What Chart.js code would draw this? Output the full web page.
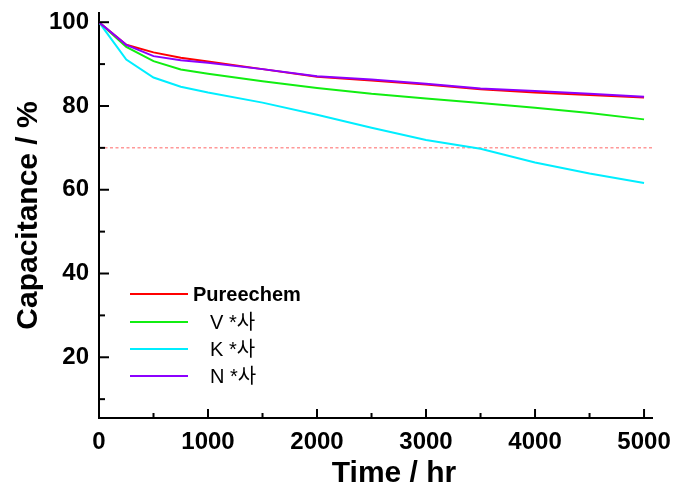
<!DOCTYPE html>
<html>
<head>
<meta charset="utf-8">
<script src="https://cdn.jsdelivr.net/npm/chart.js@4.4.0/dist/chart.umd.min.js"></script>
<style>
  html, body { margin: 0; padding: 0; background: #fff; }
</style>
</head>
<body>
<canvas id="cap-chart" width="674" height="485"></canvas>
<script>
// time points (hr) and capacitance retention (%)
const hours = [0, 250, 500, 750, 1000, 1500, 2000, 2500, 3000, 3500, 4000, 4500, 5000];
const pureechem = [100, 94.6, 92.8, 91.5, 90.6, 88.8, 87.0, 86.1, 85.1, 84.0, 83.2, 82.6, 82.0];
const vCompany = [100, 94.1, 90.7, 88.7, 87.7, 85.9, 84.3, 82.9, 81.8, 80.7, 79.6, 78.3, 76.8];
const kCompany = [100, 91.1, 86.8, 84.6, 83.2, 80.8, 77.9, 74.8, 71.9, 69.8, 66.5, 63.9, 61.6];
const nCompany = [100, 94.6, 91.9, 90.9, 90.3, 88.8, 87.1, 86.3, 85.3, 84.2, 83.6, 82.9, 82.2];

const seriesNames = ["Pureechem", "V *사", "K *사", "N *사"];
const seriesColors = ["#ff0000", "#11ee11", "#00eeff", "#8c00ff"];

const xTickLabels = [0, 1000, 2000, 3000, 4000, 5000];
const yTickLabels = [20, 40, 60, 80, 100];
const limitValue = 70;

const X_MAX = 5073;
const Y_MIN = 5.5;
const Y_MAX = 102.2;

const toPoints = (values) => hours.map((h, i) => ({ x: h, y: values[i] }));

const seriesValues = [pureechem, vCompany, kCompany, nCompany];
const drawOrder = [1, 3, 2, 0];

const datasets = seriesValues.map((values, i) => ({
  label: seriesNames[i],
  data: toPoints(values),
  borderColor: seriesColors[i],
  borderWidth: 2,
  pointRadius: 0,
  tension: 0,
  order: drawOrder[i],
}));

datasets.push({
  label: "limit",
  data: [{ x: 0, y: limitValue }, { x: X_MAX, y: limitValue }],
  borderColor: "rgba(255, 110, 110, 0.7)",
  borderWidth: 1.5,
  borderDash: [3, 2.5],
  pointRadius: 0,
  order: 5,
});

// inward tick marks, major and minor
const innerTicks = {
  id: "innerTicks",
  afterDraw(chart) {
    const ctx = chart.ctx;
    const { x, y } = chart.scales;
    ctx.save();
    ctx.strokeStyle = "#000";
    ctx.lineWidth = 2;
    for (let v = 500; v <= 5000; v += 500) {
      const px = x.getPixelForValue(v);
      const len = v % 1000 === 0 ? 9 : 5;
      ctx.beginPath();
      ctx.moveTo(px, y.bottom);
      ctx.lineTo(px, y.bottom - len);
      ctx.stroke();
    }
    for (let v = 10; v <= 100; v += 10) {
      const py = y.getPixelForValue(v);
      const len = v % 20 === 0 ? 10 : 6;
      ctx.beginPath();
      ctx.moveTo(x.left, py);
      ctx.lineTo(x.left + len, py);
      ctx.stroke();
    }
    ctx.restore();
  },
};

// legend drawn inside the plot, lower left
const insideLegend = {
  id: "insideLegend",
  afterDraw(chart) {
    const ctx = chart.ctx;
    const rows = [294, 322, 349, 376];
    ctx.save();
    ctx.textBaseline = "middle";
    ctx.fillStyle = "#000";
    for (let i = 0; i < seriesNames.length; i++) {
      ctx.strokeStyle = seriesColors[i];
      ctx.lineWidth = 2;
      ctx.beginPath();
      ctx.moveTo(130, rows[i]);
      ctx.lineTo(188, rows[i]);
      ctx.stroke();
      if (i === 0) {
        ctx.font = 'bold 20px "Liberation Sans", Arial, sans-serif';
        ctx.fillText(seriesNames[i], 193, rows[i] + 1);
      } else {
        ctx.font = '20px "Liberation Sans", "Noto Sans CJK KR", sans-serif';
        ctx.fillText(seriesNames[i], 210, rows[i] + 1);
      }
    }
    ctx.restore();
  },
};

// axis titles
const axisTitles = {
  id: "axisTitles",
  afterDraw(chart) {
    const ctx = chart.ctx;
    const area = chart.chartArea;
    ctx.save();
    ctx.fillStyle = "#000";
    ctx.font = 'bold 30px "Liberation Sans", Arial, sans-serif';
    ctx.textAlign = "center";
    ctx.textBaseline = "alphabetic";
    ctx.fillText("Time / hr", 394, 482);
    ctx.translate(37, (area.top + area.bottom) / 2);
    ctx.rotate(-Math.PI / 2);
    ctx.fillText("Capacitance / %", 0, 0);
    ctx.restore();
  },
};

const tickFont = { family: '"Liberation Sans", Arial, sans-serif', size: 24, weight: "bold" };

const noPadding = (s) => {
  s.paddingTop = 0;
  s.paddingBottom = 0;
  s.paddingLeft = 0;
  s.paddingRight = 0;
};

new Chart(document.querySelector("#cap-chart"), {
  type: "line",
  data: { datasets },
  options: {
    responsive: false,
    animation: false,
    devicePixelRatio: 1,
    layout: { padding: { top: 13, right: 22, left: 0, bottom: 0 } },
    plugins: {
      legend: { display: false },
      tooltip: { enabled: false },
    },
    scales: {
      x: {
        type: "linear",
        min: 0,
        max: X_MAX,
        afterBuildTicks: (s) => { s.ticks = xTickLabels.map((v) => ({ value: v })); },
        afterFit: (s) => { s.height = 67; noPadding(s); },
        grid: { display: false, drawTicks: false },
        border: { display: true, color: "#000", width: 2 },
        ticks: {
          font: tickFont, color: "#000", padding: 10, maxRotation: 0, autoSkip: false,
          callback: (v) => String(v),
        },
      },
      y: {
        type: "linear",
        min: Y_MIN,
        max: Y_MAX,
        afterBuildTicks: (s) => { s.ticks = yTickLabels.map((v) => ({ value: v })); },
        afterFit: (s) => { s.width = 99; noPadding(s); },
        grid: { display: false, drawTicks: false },
        border: { display: true, color: "#000", width: 2 },
        ticks: { font: tickFont, color: "#000", padding: 10, autoSkip: false, callback: (v) => String(v) },
      },
    },
  },
  plugins: [innerTicks, insideLegend, axisTitles],
});
</script>
</body>
</html>
